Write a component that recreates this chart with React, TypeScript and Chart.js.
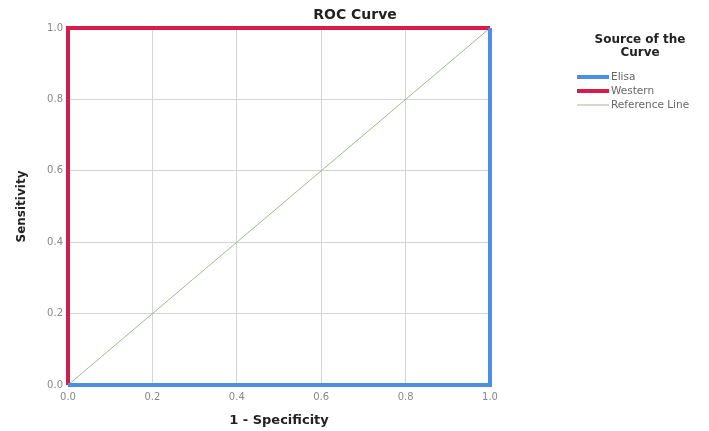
import React, { useEffect, useRef } from 'react';
import { Chart, registerables } from 'chart.js';

Chart.register(...registerables);

// ---- data ----
const seriesNames = ['Elisa', 'Western', 'Reference Line'];
const elisaX = [0, 1, 1];
const elisaY = [0, 0, 1];
const westernX = [0, 0, 1];
const westernY = [0, 1, 1];
const referenceX = [0, 1];
const referenceY = [0, 1];
const axisMin = 0;
const axisMax = 1;
const tickStep = 0.2;
const chartTitle = 'ROC Curve';
const xTitle = '1 - Specificity';
const yTitle = 'Sensitivity';
const legendTitle = ['Source of the', 'Curve'];

// ---- styles ----
const FONT = "'DejaVu Sans', sans-serif";
const seriesColors = ['#4a8fe0', '#d61c4a', '#9cbb93'];
const seriesWidths = [4, 4, 1];

const toPoints = (xs: number[], ys: number[]) => xs.map((x, i) => ({ x, y: ys[i] }));

const overlayPlugin = {
  id: 'titleAndLegend',
  afterDraw(chart: any) {
    const ctx = chart.ctx as CanvasRenderingContext2D;
    ctx.save();
    ctx.fillStyle = '#222';
    ctx.textAlign = 'center';
    ctx.textBaseline = 'middle';
    ctx.font = `bold 14px ${FONT}`;
    ctx.fillText(chartTitle, 355, 15);
    ctx.font = `bold 12px ${FONT}`;
    legendTitle.forEach((t, i) => ctx.fillText(t, 640, 40 + i * 13));
    ctx.font = `10.5px ${FONT}`;
    ctx.textAlign = 'left';
    chart.data.datasets.forEach((ds: any, i: number) => {
      const y = 77 + i * 14;
      ctx.strokeStyle = ds.borderColor;
      ctx.lineWidth = ds.borderWidth;
      ctx.beginPath();
      ctx.moveTo(577, y);
      ctx.lineTo(609, y);
      ctx.stroke();
      ctx.fillStyle = '#666';
      ctx.fillText(ds.label, 611, y);
    });
    ctx.restore();
  },
};

export default function App() {
  const ref = useRef<HTMLCanvasElement>(null);
  useEffect(() => {
    if (!ref.current) return;
    const mkScale = (title: string, horizontal: boolean) => ({
      type: 'linear' as const,
      min: axisMin,
      max: axisMax,
      ticks: {
        stepSize: tickStep,
        callback: (v: any) => Number(v).toFixed(1),
        font: { family: FONT, size: 10 },
        color: '#888',
        padding: horizontal ? 6 : 5,
      },
      grid: { color: '#d4d4d4', lineWidth: 1, drawTicks: false },
      border: { display: false },
      title: {
        display: true,
        text: title,
        color: '#222',
        font: { family: FONT, size: horizontal ? 13 : 12, weight: 'bold' as const },
        padding: horizontal ? { top: 4, bottom: 3 } : { top: 15, bottom: 4 },
      },
      afterFit: (scale: any) => {
        if (horizontal) scale.height = 46;
        else scale.width = 68;
      },
    });
    const chart = new Chart(ref.current, {
      type: 'line',
      data: {
        datasets: [
          { label: seriesNames[0], data: toPoints(elisaX, elisaY) },
          { label: seriesNames[1], data: toPoints(westernX, westernY) },
          { label: seriesNames[2], data: toPoints(referenceX, referenceY) },
        ].map((d, i) => ({
          ...d,
          borderColor: seriesColors[i],
          backgroundColor: seriesColors[i],
          borderWidth: seriesWidths[i],
          pointRadius: 0,
          tension: 0,
          fill: false,
          clip: false as any,
          borderJoinStyle: 'miter' as const,
        })),
      },
      options: {
        animation: false,
        responsive: false,
        layout: { padding: { left: 0, right: 219, top: 28, bottom: 0 } },
        plugins: {
          legend: { display: false },
          tooltip: { enabled: false },
          title: { display: false },
        },
        scales: {
          x: mkScale(xTitle, true),
          y: mkScale(yTitle, false),
        } as any,
      },
      plugins: [overlayPlugin],
    });
    return () => chart.destroy();
  }, []);
  return (
    <div style={{ position: 'fixed', left: 0, top: 0, width: 709, height: 431, background: '#fff' }}>
      <canvas ref={ref} width={709} height={431} style={{ display: 'block' }} />
    </div>
  );
}
